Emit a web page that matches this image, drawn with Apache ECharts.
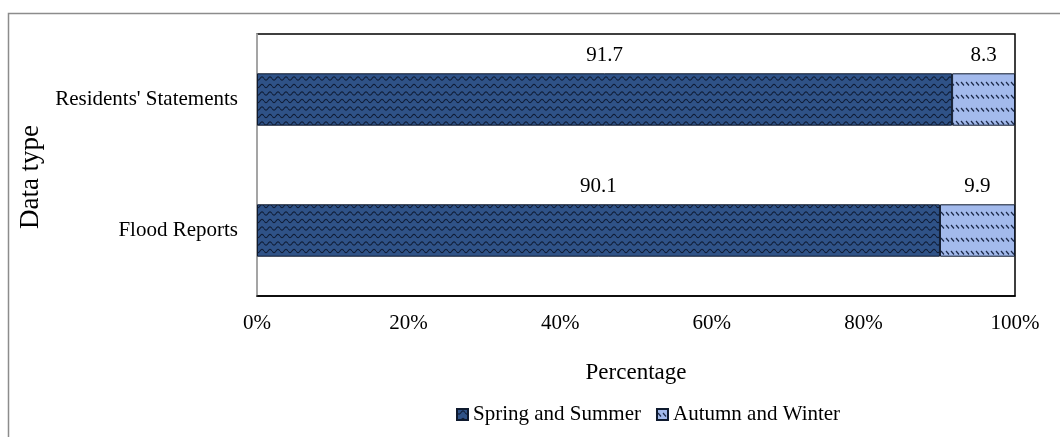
<!DOCTYPE html>
<html>
<head>
<meta charset="utf-8">
<script src="https://cdn.jsdelivr.net/npm/echarts@6/dist/echarts.min.js"></script>
<style>
html, body { margin: 0; padding: 0; background: #fff; }
#main { width: 1060px; height: 437px; }
</style>
</head>
<body>
<div id="main"></div>
<script>
var categories = ['Flood Reports', "Residents' Statements"];
var springSummer = [90.1, 91.7];
var autumnWinter = [9.9, 8.3];
var xTicks = [0, 20, 40, 60, 80, 100];

// wavy pattern for the dark bars
function wavePattern() {
    var c = document.createElement('canvas');
    c.width = 8;
    c.height = 15;
    var ctx = c.getContext('2d');
    ctx.fillStyle = '#2f5287';
    ctx.fillRect(0, 0, 8, 15);
    ctx.strokeStyle = '#101d36';
    ctx.lineWidth = 1.1;
    [3.5, 11].forEach(function (y0) {
        ctx.beginPath();
        for (var x = 0; x <= 8; x += 0.5) {
            var y = y0 + 1.6 * Math.sin(x / 8 * Math.PI * 2);
            if (x === 0) ctx.moveTo(x, y); else ctx.lineTo(x, y);
        }
        ctx.stroke();
    });
    return c;
}

// dashed diagonal pattern for the light bars
function dashPattern() {
    var c = document.createElement('canvas');
    c.width = 5; c.height = 13;
    var ctx = c.getContext('2d');
    ctx.fillStyle = '#a3baec';
    ctx.fillRect(0, 0, 5, 13);
    ctx.strokeStyle = '#1c2a4a';
    ctx.lineWidth = 1.2;
    ctx.beginPath();
    ctx.moveTo(1, 4);
    ctx.lineTo(4, 7.5);
    ctx.stroke();
    return c;
}

var chart = echarts.init(document.getElementById('main'));
var font = '"Liberation Serif", "Times New Roman", serif';

var option = {
    backgroundColor: '#fff',
    textStyle: { fontFamily: font, color: '#000' },
    animation: false,
    graphic: [{
        type: 'rect',
        shape: { x: 8.5, y: 13.5, width: 1200, height: 600 },
        style: { fill: null, stroke: '#8c8c8c', lineWidth: 1.5 },
        silent: true
    }],
    legend: {
        left: 451,
        top: 399,
        itemWidth: 11,
        itemHeight: 11,
        itemGap: 15,
        icon: 'rect',
        textStyle: { fontFamily: font, fontSize: 21, color: '#000' },
        data: ['Spring and Summer', 'Autumn and Winter']
    },
    grid: {
        left: 257,
        right: 45,
        top: 34,
        bottom: 141,
        show: true,
        borderColor: '#000',
        borderWidth: 1.5
    },
    xAxis: {
        type: 'value',
        min: 0,
        max: 100,
        interval: 20,
        name: 'Percentage',
        nameLocation: 'middle',
        nameGap: 65,
        nameTextStyle: { fontFamily: font, fontSize: 23, color: '#000' },
        axisLine: { show: true, lineStyle: { color: '#000', width: 1.5 } },
        axisTick: { show: false },
        splitLine: { show: false },
        axisLabel: {
            formatter: function (v) { return xTicks.indexOf(v) >= 0 ? v + '%' : ''; },
            fontFamily: font, fontSize: 21, color: '#000', margin: 17
        }
    },
    yAxis: {
        type: 'category',
        data: categories,
        name: 'Data type',
        nameLocation: 'middle',
        nameRotate: 90,
        nameGap: 206,
        nameTextStyle: { fontFamily: font, fontSize: 27, color: '#000', padding: [0, 24, 0, 0] },
        axisLine: { show: true, lineStyle: { color: '#c8c8c8', width: 1.5 } },
        axisTick: { show: false },
        axisLabel: { fontFamily: font, fontSize: 21, color: '#000', margin: 19 }
    },
    series: [{
        name: 'Spring and Summer',
        type: 'bar',
        stack: 'total',
        barWidth: '40%',
        data: springSummer,
        itemStyle: {
            color: { image: wavePattern(), repeat: 'repeat' },
            borderColor: '#0f1a2e',
            borderWidth: 1
        },
        label: {
            show: true,
            position: 'top',
            distance: 7,
            fontFamily: font,
            fontSize: 21,
            color: '#000'
        }
    }, {
        name: 'Autumn and Winter',
        type: 'bar',
        stack: 'total',
        barWidth: '40%',
        data: autumnWinter,
        itemStyle: {
            color: { image: dashPattern(), repeat: 'repeat' },
            borderColor: '#0f1a2e',
            borderWidth: 1
        },
        label: {
            show: true,
            position: 'top',
            distance: 7,
            fontFamily: font,
            fontSize: 21,
            color: '#000'
        }
    }]
};

option && chart.setOption(option);
</script>
</body>
</html>
